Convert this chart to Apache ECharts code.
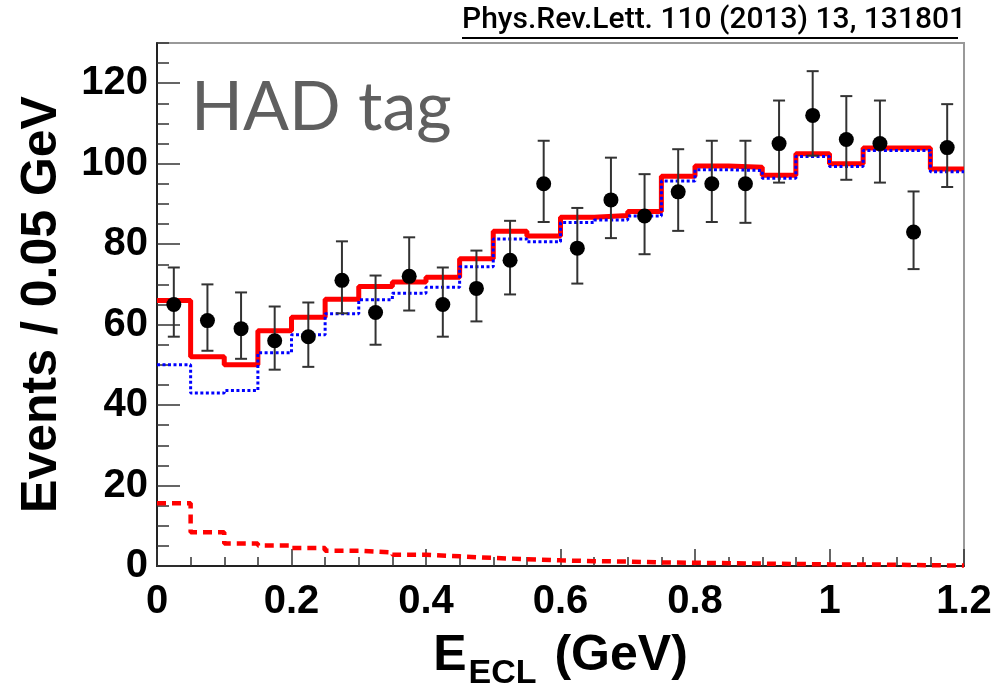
<!DOCTYPE html>
<html>
<head>
<meta charset="utf-8">
<script src="https://cdn.jsdelivr.net/npm/echarts@6/dist/echarts.min.js"></script>
<style>
  html, body { margin: 0; padding: 0; background: #fff; }
  #chart { width: 998px; height: 688px; }
</style>
</head>
<body>
<div id="chart"></div>
<script>
// bin width 0.05 GeV, 24 bins from 0 to 1.2
const binW = 0.05;
const dataCounts = [65, 61, 59, 56, 57, 71, 63, 72, 65, 69, 76, 95, 79, 91, 87, 93, 95, 95, 105, 112, 106, 105, 83, 104];
const errLow = [57, 53.5, 51.5, 48.8, 49.5, 62.8, 55, 63.5, 57, 60.8, 67.5, 85.5, 70.2, 81.5, 77.5, 83.3, 85.5, 85.3, 95.3, 102, 96, 95.3, 73.8, 94.2];
const errHigh = [74.2, 70, 68, 64.5, 65.5, 80.7, 72.2, 81.7, 74.2, 78.4, 85.8, 105.7, 89, 101.5, 97.4, 103.6, 105.7, 105.7, 115.7, 123, 116.8, 115.7, 93.1, 114.8];
const totalFit = [66, 52, 50, 58.5, 61.8, 66.3, 69.5, 70.6, 71.8, 76.4, 83.2, 82, 86.7, 87.1, 88.1, 96.9, 99.4, 99.1, 97.1, 102.5, 100, 103.9, 103.9, 98.7];
const signalFit = [50, 43, 43.6, 53, 57.5, 62.7, 66.2, 67.8, 69.3, 74.4, 81.3, 80.6, 85.4, 86, 87, 95.7, 98.5, 98.3, 96.4, 101.8, 99.3, 103.3, 103.3, 98];
const bkgFit = [15.6, 8.4, 5.6, 5.1, 4.5, 3.8, 3.4, 2.8, 2.4, 2.0, 1.7, 1.4, 1.2, 1.1, 0.9, 0.8, 0.7, 0.6, 0.5, 0.4, 0.4, 0.3, 0.2, 0.1];
const xTicks = [0, 0.2, 0.4, 0.6, 0.8, 1, 1.2];
const yTicks = [0, 20, 40, 60, 80, 100, 120];

const chart = echarts.init(document.getElementById('chart'));

function histPoints(vals) {
  const pts = vals.map((v, i) => [i * binW, v]);
  pts.push([vals.length * binW, vals[vals.length - 1]]);
  return pts;
}

const pointData = dataCounts.map((v, i) => [(i + 0.5) * binW, v]);
const errData = dataCounts.map((v, i) => [(i + 0.5) * binW, errLow[i], errHigh[i]]);

const labelFont = { fontFamily: 'Liberation Sans, Arial, sans-serif', fontWeight: 'bold', color: '#000' };

chart.setOption({
  animation: false,
  backgroundColor: '#fff',
  grid: {
    left: 157, right: 34, top: 43, bottom: 122,
    outerBoundsMode: 'none',
    show: true, borderColor: '#999', borderWidth: 2, backgroundColor: 'transparent'
  },
  xAxis: {
    type: 'value', min: 0, max: 1.2, interval: 0.2,
    axisLine: { show: true, lineStyle: { color: '#222', width: 2 } },
    axisTick: { inside: true, length: 17, lineStyle: { color: '#333', width: 1.5 } },
    minorTick: { show: true, splitNumber: 4, length: 9, lineStyle: { color: '#333', width: 1.5 } },
    axisLabel: { ...labelFont, fontSize: 40, margin: 16, customValues: xTicks },
    splitLine: { show: false },
    minorSplitLine: { show: false },
    name: '{m|E}{s|ECL}{m| (GeV)}',
    nameLocation: 'middle',
    nameGap: 55,
    nameTextStyle: {
      rich: {
        m: { ...labelFont, fontSize: 50, lineHeight: 56 },
        s: { ...labelFont, fontSize: 34, padding: [36, 4, 0, 2] }
      }
    }
  },
  yAxis: [
    {
      type: 'value', min: 0, max: 130, interval: 20, position: 'left',
      axisLine: { show: true, lineStyle: { color: '#222', width: 2 } },
      axisTick: { inside: true, length: 23, customValues: yTicks, lineStyle: { color: '#333', width: 1.5 } },
      axisLabel: { ...labelFont, fontSize: 40, margin: 9, customValues: yTicks },
      splitLine: { show: false },
      name: 'Events / 0.05 GeV',
      nameLocation: 'middle',
      nameRotate: 90,
      nameGap: 90,
      nameTextStyle: { ...labelFont, fontSize: 50 }
    },
    {
      type: 'value', min: 0, max: 130, interval: 5, position: 'left',
      axisLine: { show: false },
      axisTick: { inside: true, length: 12, lineStyle: { color: '#333', width: 1.5 } },
      axisLabel: { show: false },
      splitLine: { show: false }
    }
  ],
  graphic: [
    {
      type: 'text', left: 191, top: 74,
      style: { text: 'HAD tag', fontFamily: 'Lato, sans-serif', fontSize: 68, fill: '#5f5f5f' }
    },
    {
      type: 'text', left: 462, top: 5,
      style: { text: 'Phys.Rev.Lett. 110 (2013) 13, 131801', fontFamily: 'Roboto, sans-serif', fontWeight: 500, fontSize: 30, fill: '#000' }
    },
    {
      type: 'line', shape: { x1: 462, y1: 38, x2: 958, y2: 38 },
      style: { stroke: '#000', lineWidth: 2 }
    }
  ],
  series: [
    {
      name: 'background', type: 'line', step: 'end', data: histPoints(bkgFit),
      symbol: 'none', lineStyle: { color: '#ff0000', width: 4.5, type: [9, 6] }, z: 2
    },
    {
      name: 'signal', type: 'line', step: 'end', data: histPoints(signalFit),
      symbol: 'none', lineStyle: { color: '#0000ff', width: 3, type: [3, 2.5] }, z: 3
    },
    {
      name: 'total', type: 'line', step: 'end', data: histPoints(totalFit),
      symbol: 'none', lineStyle: { color: '#ff0000', width: 5 }, z: 2
    },
    {
      name: 'errors', type: 'custom', data: errData, z: 5,
      encode: { x: 0, y: [1, 2] },
      renderItem: function (params, api) {
        const x = api.value(0);
        const lo = api.coord([x, api.value(1)]);
        const hi = api.coord([x, api.value(2)]);
        const st = { stroke: '#333', lineWidth: 2 };
        const cap = 6;
        return {
          type: 'group',
          children: [
            { type: 'line', shape: { x1: lo[0], y1: lo[1], x2: hi[0], y2: hi[1] }, style: st },
            { type: 'line', shape: { x1: lo[0] - cap, y1: lo[1], x2: lo[0] + cap, y2: lo[1] }, style: st },
            { type: 'line', shape: { x1: hi[0] - cap, y1: hi[1], x2: hi[0] + cap, y2: hi[1] }, style: st }
          ]
        };
      }
    },
    {
      name: 'data', type: 'scatter', data: pointData, symbol: 'circle', symbolSize: 15,
      itemStyle: { color: '#000', opacity: 1 }, z: 6
    }
  ]
});
</script>
</body>
</html>
